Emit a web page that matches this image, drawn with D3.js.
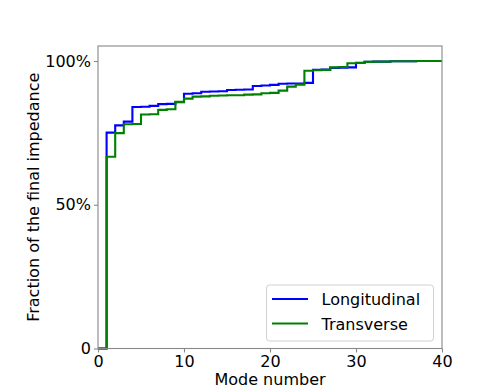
<!DOCTYPE html>
<html><head><meta charset="utf-8">
<script src="https://cdn.jsdelivr.net/npm/d3@7"></script>
<style>body{margin:0;background:#fff}svg{display:block}</style>
</head><body>
<svg id="c" width="491" height="392"></svg>
<script>
const modes = d3.range(0, 41);
const longitudinal = [0, 0.751, 0.776, 0.789, 0.840, 0.841, 0.844, 0.850, 0.851, 0.857,
  0.886, 0.888, 0.893, 0.894, 0.895, 0.899, 0.900, 0.901, 0.913, 0.915,
  0.917, 0.921, 0.922, 0.922, 0.924, 0.969, 0.970, 0.976, 0.977, 0.978,
  0.994, 0.997, 0.998, 0.998, 0.999, 0.999, 0.999, 1.0, 1.0, 1.0, 1.0];
const transverse = [0, 0.667, 0.749, 0.780, 0.781, 0.814, 0.815, 0.830, 0.832, 0.858,
  0.869, 0.876, 0.877, 0.879, 0.880, 0.881, 0.881, 0.883, 0.884, 0.888,
  0.889, 0.897, 0.911, 0.918, 0.966, 0.968, 0.969, 0.978, 0.979, 0.992,
  0.993, 0.997, 0.998, 0.998, 0.999, 0.999, 0.999, 1.0, 1.0, 1.0, 1.0];
const seriesNames = ["Longitudinal", "Transverse"];
const seriesColors = ["#0000ff", "#008000"];
const xTicks = [0, 10, 20, 30, 40];
const yTicks = [0, 0.5, 1.0];
const yTickLabels = ["0", "50%", "100%"];

const svg = d3.select("#c");
const L = 98, R = 442, T = 46, B = 348.5;
const x = d3.scaleLinear().domain([0, 40]).range([L, R]);
const y = d3.scaleLinear().domain([0, 1.0522]).range([B, T]);
const font = "DejaVu Sans, sans-serif";

const line = d3.line().x(d => x(d[0])).y(d => y(d[1])).curve(d3.curveStepAfter);
[longitudinal, transverse].forEach((s, i) => {
  svg.append("path")
    .datum(modes.map((m, j) => [m, s[j]]))
    .attr("d", line)
    .attr("fill", "none")
    .attr("stroke", seriesColors[i])
    .attr("stroke-width", 2.1)
    .attr("stroke-linejoin", "miter");
});

// spines
svg.append("rect").attr("x", L).attr("y", T).attr("width", R - L).attr("height", B - T)
  .attr("fill", "none").attr("stroke", "#888").attr("stroke-width", 1.1);

const xAxis = d3.axisBottom(x).tickValues(xTicks).tickSize(4).tickPadding(3).tickFormat(d3.format("d"));
const gx = svg.append("g").attr("transform", `translate(0,${B})`).call(xAxis);
gx.select(".domain").remove();
gx.selectAll("line").attr("stroke", "#888").attr("stroke-width", 1.1);
gx.selectAll("text").attr("font-family", font).attr("font-size", 16).attr("fill", "#000");

const yAxis = d3.axisLeft(y).tickValues(yTicks).tickSize(4).tickPadding(3).tickFormat((d, i) => yTickLabels[i]);
const gy = svg.append("g").attr("transform", `translate(${L},0)`).call(yAxis);
gy.select(".domain").remove();
gy.selectAll("line").attr("stroke", "#888").attr("stroke-width", 1.1);
gy.selectAll("text").attr("font-family", font).attr("font-size", 16).attr("fill", "#000");

svg.append("text").attr("x", (L + R) / 2).attr("y", 385).attr("text-anchor", "middle")
  .attr("font-family", font).attr("font-size", 16).text("Mode number");
svg.append("text").attr("transform", `translate(39,${(T + B) / 2}) rotate(-90)`)
  .attr("text-anchor", "middle").attr("font-family", font).attr("font-size", 16)
  .text("Fraction of the final impedance");

// legend
const lg = svg.append("g");
lg.append("rect").attr("x", 266.5).attr("y", 285).attr("width", 167).attr("height", 56)
  .attr("rx", 3).attr("fill", "#fff").attr("fill-opacity", 0.8).attr("stroke", "#d0d0d0");
seriesNames.forEach((n, i) => {
  const yy = 299 + i * 24.5;
  lg.append("line").attr("x1", 272).attr("x2", 308).attr("y1", yy).attr("y2", yy)
    .attr("stroke", seriesColors[i]).attr("stroke-width", 2.1);
  lg.append("text").attr("x", 321.5).attr("y", yy + 6).attr("font-family", font)
    .attr("font-size", 16).text(n);
});
</script>
</body></html>
